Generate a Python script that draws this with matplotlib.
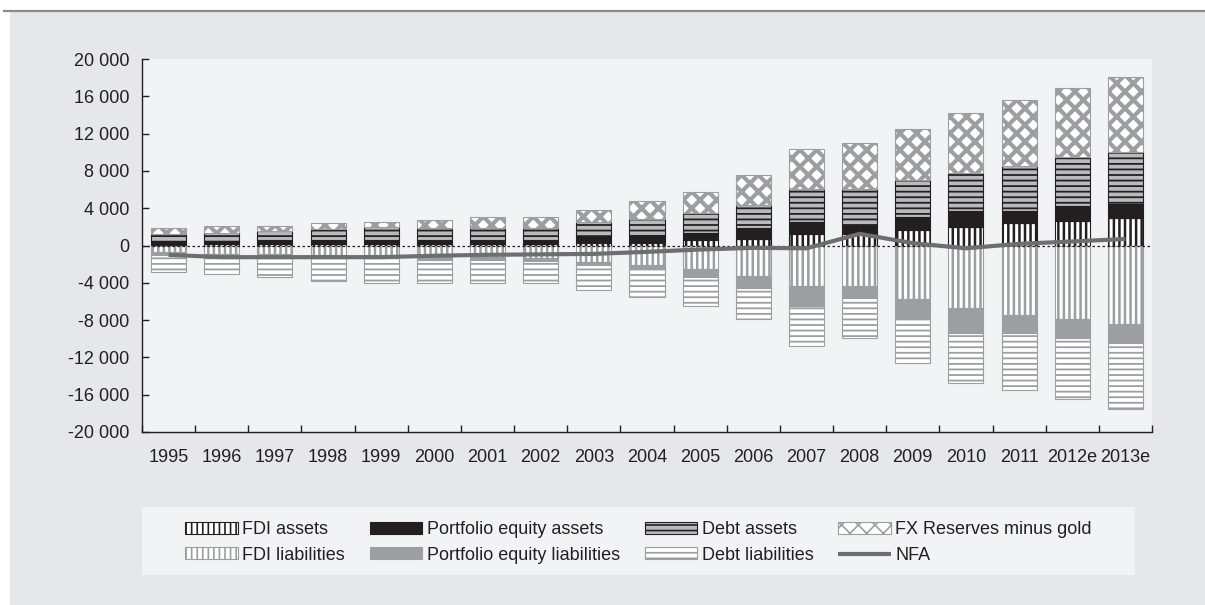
import matplotlib
matplotlib.use("Agg")
import matplotlib.pyplot as plt
import matplotlib.patches as mpatches
from matplotlib.lines import Line2D
from matplotlib.ticker import FuncFormatter, FixedLocator
import numpy as np

plt.rcParams['font.family'] = ['Liberation Sans', 'DejaVu Sans']
plt.rcParams['hatch.linewidth'] = 1.2

years = ["1995", "1996", "1997", "1998", "1999", "2000", "2001", "2002", "2003",
         "2004", "2005", "2006", "2007", "2008", "2009", "2010", "2011", "2012e", "2013e"]

fdi_assets = [100, 110, 120, 140, 160, 180, 150, 210, 220, 290, 540, 720, 1180, 1200,
              1710, 1960, 2430, 2680, 2950]
pe_assets = [250, 350, 450, 430, 410, 460, 490, 430, 710, 820, 800, 1170, 1320, 1050,
             1320, 1790, 1320, 1530, 1510]
debt_assets = [900, 830, 970, 1180, 1430, 1290, 1290, 1290, 1600, 1780, 2140, 2500, 3570,
               3820, 4040, 4070, 4780, 5290, 5570]
fx_reserves = [580, 780, 530, 610, 570, 850, 1140, 1140, 1250, 1860, 2220, 3210, 4250,
               4960, 5390, 6390, 7110, 7350, 8070]

fdi_liab = [660, 860, 860, 1040, 1040, 1250, 1250, 1300, 1790, 2100, 2550, 3320, 4320,
            4320, 5750, 6710, 7430, 7930, 8390]
pe_liab = [340, 200, 200, 200, 200, 350, 350, 350, 310, 470, 780, 1250, 2210, 1280,
           2030, 2640, 1920, 1960, 2070]
debt_liab = [1810, 2040, 2300, 2580, 2830, 2470, 2470, 2420, 2720, 2930, 3170, 3360, 4290,
             4290, 4820, 5390, 6180, 6600, 7030]

nfa = [-1000, -1250, -1250, -1250, -1250, -1100, -1000, -950, -900, -680, -430, -250,
       -300, 1250, 250, -300, 180, 430, 700]

y_ticks = [-20000, -16000, -12000, -8000, -4000, 0, 4000, 8000, 12000, 16000, 20000]

BLACK = '#231f20'
GRAY = '#9d9ea1'
DARKGRAY = '#6d6e70'
PANEL = '#f2f3f5'
OUTER = '#e6e7e9'

W, H = 1205, 605
fig = plt.figure(figsize=(W / 100, H / 100), dpi=100, facecolor='white')

# outer gray background and top rule
fig.patches.append(mpatches.Rectangle((10 / W, 0), 1 - 10 / W, (H - 12) / H,
                                      transform=fig.transFigure, facecolor=OUTER,
                                      edgecolor='none', zorder=-10))
fig.lines.append(Line2D([4 / W, 1], [(H - 11) / H, (H - 11) / H], transform=fig.transFigure,
                        color='#8c8c8e', linewidth=1.6, zorder=-9))
# legend panel
fig.patches.append(mpatches.Rectangle((142 / W, (H - 575) / H), (1135 - 142) / W, 68 / H,
                                      transform=fig.transFigure, facecolor=PANEL,
                                      edgecolor='none', zorder=-8))

ax = fig.add_axes([142 / W, (H - 432) / H, 1010 / W, 373 / H])
ax.set_zorder(2)
ax.set_facecolor(PANEL)

x = np.arange(len(years))
bw = 0.66

fa = np.array(fdi_assets); pa = np.array(pe_assets); da = np.array(debt_assets); fx = np.array(fx_reserves)
fl = np.array(fdi_liab); pl = np.array(pe_liab); dl = np.array(debt_liab)


def hbar(lw, *args, **kw):
    with plt.rc_context({'hatch.linewidth': lw}):
        bars = ax.bar(*args, **kw)
    for p in bars:
        if hasattr(p, 'set_hatch_linewidth'):
            p.set_hatch_linewidth(lw)
    return bars


b1 = hbar(1.8, x, fa, bw, facecolor='white', edgecolor=BLACK, hatch='|||', linewidth=0.8, zorder=2)
b2 = ax.bar(x, pa, bw, bottom=fa, facecolor=BLACK, edgecolor=BLACK, linewidth=0.8, zorder=2)
b3 = hbar(1.3, x, da, bw, bottom=fa + pa, facecolor='#b9babc', edgecolor=BLACK, hatch='---',
          linewidth=0.8, zorder=2)
b4 = hbar(3.0, x, fx, bw, bottom=fa + pa + da, facecolor='white', edgecolor=GRAY, hatch='xx',
          linewidth=0.8, zorder=2)

b5 = hbar(1.8, x, -fl, bw, facecolor='white', edgecolor=GRAY, hatch='|||', linewidth=0.8, zorder=2)
b6 = ax.bar(x, -pl, bw, bottom=-fl, facecolor=GRAY, edgecolor=GRAY, linewidth=0.8, zorder=2)
b7 = hbar(1.3, x, -dl, bw, bottom=-fl - pl, facecolor='white', edgecolor=GRAY, hatch='---',
          linewidth=0.8, zorder=2)

ax.axhline(0, color=BLACK, linestyle=(0, (2, 2)), linewidth=0.9, zorder=3)
ln, = ax.plot(x, nfa, color=DARKGRAY, linewidth=3, zorder=4, solid_capstyle='butt')

ax.set_xlim(-0.5, len(years) - 0.5)
ax.set_ylim(-20000, 20000)
ax.set_yticks(y_ticks)
ax.yaxis.set_major_formatter(FuncFormatter(lambda v, p: f"{int(v):,}".replace(",", " ")))
ax.set_xticks(x)
ax.set_xticklabels(years)
ax.xaxis.set_minor_locator(FixedLocator(np.arange(-0.5, len(years), 1.0)))
ax.tick_params(axis='x', which='major', length=0, pad=12, labelsize=13, labelcolor=BLACK)
ax.tick_params(axis='x', which='minor', direction='in', length=5, width=1, color=BLACK)
ax.tick_params(axis='y', direction='in', length=5, width=1, color=BLACK, pad=9,
               labelsize=13, labelcolor=BLACK)
for s in ['top', 'right']:
    ax.spines[s].set_visible(False)
for s in ['left', 'bottom']:
    ax.spines[s].set_color(BLACK)
    ax.spines[s].set_linewidth(1)

handles = [b1, b5, b2, b6, b3, b7, b4, ln]
labels = ['FDI assets', 'FDI liabilities', 'Portfolio equity assets',
          'Portfolio equity liabilities', 'Debt assets', 'Debt liabilities',
          'FX Reserves minus gold', 'NFA']
leg = fig.legend(handles, labels, loc='center', bbox_to_anchor=(638.5 / W, 1 - 542.5 / H), ncol=4,
                 frameon=False, fontsize=13, handlelength=2.9, handleheight=0.6,
                 handletextpad=0.25, columnspacing=1.38, labelspacing=0.45, borderpad=0,
                 labelcolor=BLACK)
leg.set_zorder(5)

fig.savefig('out.png', dpi=100, facecolor='white')
